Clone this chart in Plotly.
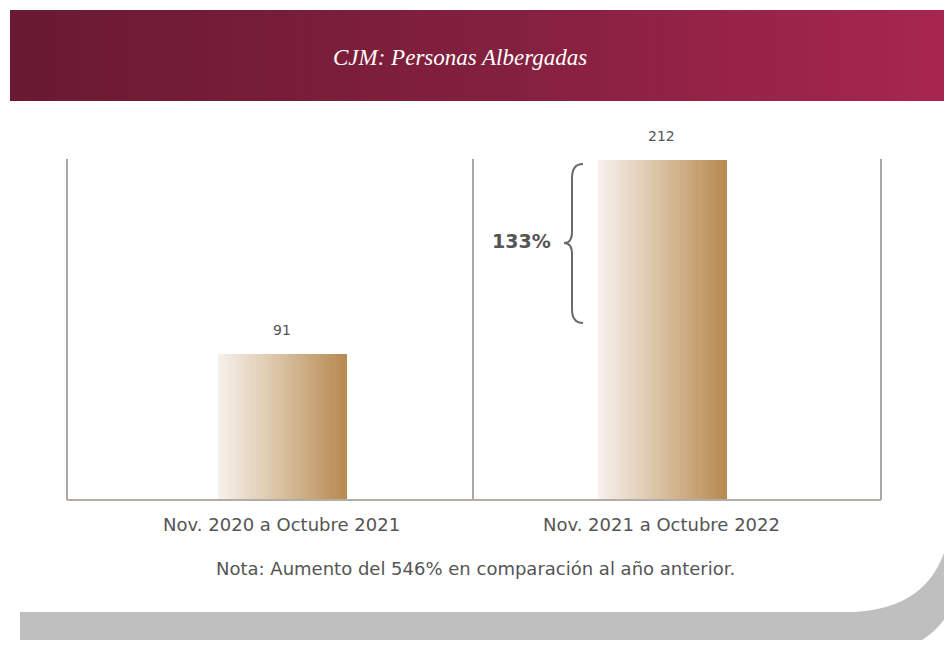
import plotly.graph_objects as go

# ---- data ----
categories = ["Nov. 2020 a Octubre 2021", "Nov. 2021 a Octubre 2022"]
values = [91, 212]
value_labels = ["91", "212"]
title_text = "<i>CJM: Personas Albergadas</i>"
note_text = "Nota: Aumento del 546% en comparación al año anterior."
increase_label = "133%"

# ---- layout geometry (page has an 8px body margin) ----
OFF = 8
W, H = 952 - 2 * OFF, 648 - 2 * OFF
PL, PR, PT, PB = 67, 881, 140, 500          # plot area in viewport pixels
ML, MR, MT, MB = PL - OFF, (W + OFF) - PR, PT - OFF, (H + OFF) - PB
PW, PH = PR - PL, PB - PT


def px(x):
    return (x - PL) / PW


def py(y):
    return (PB - y) / PH


def lerp(c1, c2, t):
    return "rgb(%d,%d,%d)" % tuple(round(a + (b - a) * t) for a, b in zip(c1, c2))


fig = go.Figure()

# gradient bars via thin slices
N = 40
bar_w = 0.334
light = (245, 240, 235)
mid = (216, 192, 160)
dark = (184, 139, 82)
for i in range(N):
    t = i / (N - 1)
    col = lerp(light, mid, t * 2) if t < 0.5 else lerp(mid, dark, (t - 0.5) * 2)
    fig.add_trace(go.Bar(
        x=categories, y=values,
        width=bar_w / N * 1.6,
        offset=-bar_w / 2 + i * bar_w / N,
        marker=dict(color=col, line=dict(width=0)),
        hoverinfo="skip", showlegend=False,
    ))

shapes = []
# card shadow
shadow = "M %f %f L %f %f L %f %f Q %f %f %f %f L %f %f Z" % (
    px(20), py(420), px(965), py(420), px(965), py(540),
    px(965), py(655), px(860), py(655), px(20), py(655))
shapes.append(dict(type="path", xref="paper", yref="paper", layer="below",
                   path=shadow, fillcolor="#bfbfbf", line=dict(width=0)))
# white card with rounded bottom-right corner
card = "M %f %f L %f %f L %f %f Q %f %f %f %f L %f %f Z" % (
    px(20), py(100), px(952), py(100), px(952), py(500),
    px(952), py(612), px(845), py(612), px(20), py(612))
shapes.append(dict(type="path", xref="paper", yref="paper", layer="below",
                   path=card, fillcolor="white", line=dict(width=0)))

# header gradient
c_left = (106, 26, 50)
c_mid = (130, 32, 62)
c_right = (168, 38, 80)
M = 80
x_start, x_end = 10, 952
for i in range(M):
    t = i / (M - 1)
    col = lerp(c_left, c_mid, t * 2) if t < 0.5 else lerp(c_mid, c_right, (t - 0.5) * 2)
    xa = x_start + (x_end - x_start) * i / M
    xb = x_start + (x_end - x_start) * (i + 1) / M + 0.8
    shapes.append(dict(type="rect", xref="paper", yref="paper", layer="below",
                       x0=px(xa), x1=px(xb), y0=py(101), y1=py(10),
                       fillcolor=col, line=dict(width=0)))

# vertical frame lines
for xp in (67, 473, 881):
    shapes.append(dict(type="line", xref="paper", yref="paper",
                       x0=px(xp), x1=px(xp), y0=py(500), y1=py(159),
                       line=dict(color="#a8a8a8", width=2)))
# baseline
shapes.append(dict(type="line", xref="paper", yref="paper",
                   x0=px(67), x1=px(881), y0=py(500), y1=py(500),
                   line=dict(color="#b5aca6", width=2)))

# curly brace
pts = [(583, 164), (572, 164), (572, 178), (572, 232), (572, 243), (564, 243),
       (572, 243), (572, 254), (572, 309), (572, 323), (583, 323)]
P = [(px(a), py(b)) for a, b in pts]
brace = ("M {0[0]} {0[1]} Q {1[0]} {1[1]} {2[0]} {2[1]} L {3[0]} {3[1]} "
         "Q {4[0]} {4[1]} {5[0]} {5[1]} Q {6[0]} {6[1]} {7[0]} {7[1]} "
         "L {8[0]} {8[1]} Q {9[0]} {9[1]} {10[0]} {10[1]}").format(*P)
shapes.append(dict(type="path", xref="paper", yref="paper", path=brace,
                   line=dict(color="#6a6a6a", width=2)))

annotations = [
    dict(text=title_text, xref="paper", yref="paper", x=px(460), y=py(58),
         xanchor="center", yanchor="middle",
         showarrow=False, font=dict(family="Liberation Serif", size=23, color="white")),
    dict(text=note_text, xref="paper", yref="paper", x=px(475), y=py(568),
         xanchor="center", yanchor="middle",
         showarrow=False, font=dict(family="DejaVu Sans", size=18, color="#555555")),
    dict(text="<b>%s</b>" % increase_label, xref="paper", yref="paper", x=px(521), y=py(241),
         xanchor="center", yanchor="middle",
         showarrow=False, font=dict(family="DejaVu Sans", size=19, color="#555555")),
]
for c, v, lab in zip(categories, values, value_labels):
    annotations.append(dict(text=lab, x=c, y=v, xref="x", yref="y", yshift=24,
                            showarrow=False,
                            font=dict(family="DejaVu Sans", size=14, color="#555555")))

fig.update_layout(
    width=W, height=H,
    margin=dict(l=ML, r=MR, t=MT, b=MB, pad=0),
    paper_bgcolor="white", plot_bgcolor="rgba(0,0,0,0)",
    barmode="overlay", bargap=0,
    showlegend=False,
    shapes=shapes, annotations=annotations,
    xaxis=dict(range=[-0.565, 1.578], showgrid=False, zeroline=False, showline=False,
               ticks="", tickfont=dict(family="DejaVu Sans", size=18, color="#555555"),
               ticklabelstandoff=12, fixedrange=True),
    yaxis=dict(range=[0, 212 * PH / 340], showgrid=False, zeroline=False, showline=False,
               showticklabels=False, ticks="", fixedrange=True),
)

fig.write_html("out.html", config={"displayModeBar": False})
